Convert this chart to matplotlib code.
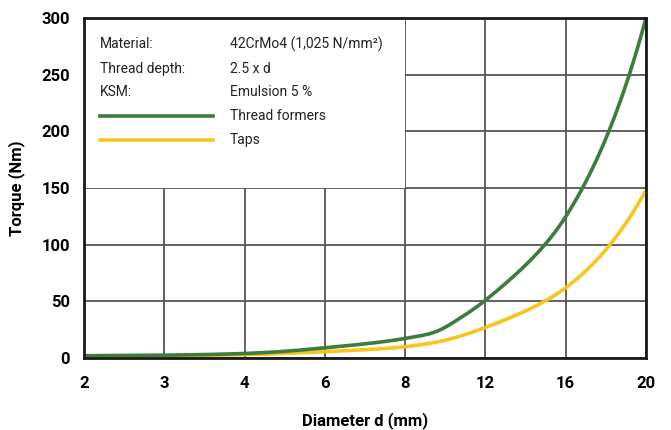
import numpy as np
import matplotlib.pyplot as plt
from matplotlib.patches import Rectangle
from matplotlib.lines import Line2D

# tick labels (diameters) sit on equally spaced positions
diam_labels = ["2", "3", "4", "6", "8", "12", "16", "20"]

# curve points, x given as position along the category axis
formers_pos = [0, 1, 2, 3, 4, 4.35, 4.68, 5, 6, 7]
formers_nm = [2, 2.5, 4, 9, 17.3, 22.4, 35, 51, 124.7, 300]

taps_pos = [0, 1, 2, 3, 4, 4.35, 5, 6, 7]
taps_nm = [1.5, 1.8, 3, 5.6, 10, 13.5, 27, 62, 148]

info_rows = [("Material:", "42CrMo4 (1,025 N/mm\u00b2)"),
             ("Thread depth:", "2.5 x d"),
             ("KSM:", "Emulsion 5 %")]

green = "#3b7d3b"
yellow = "#f7c51e"
plt.rcParams["font.family"] = ["Roboto", "DejaVu Sans"]

fig = plt.figure(figsize=(6.71, 4.30), dpi=100)
ax = fig.add_axes([0.1252, 0.1674, 0.8375, 0.7907])


def smooth(px, py, n=400):
    # cubic hermite through the read points, in log space
    x = np.asarray(px, float)
    y = np.log(np.asarray(py, float))
    h = np.diff(x)
    d = np.diff(y) / h
    m = np.empty_like(y)
    m[0], m[-1] = d[0], d[-1]
    m[1:-1] = (d[1:] * h[:-1] + d[:-1] * h[1:]) / (h[:-1] + h[1:])
    xs = np.linspace(x[0], x[-1], n)
    i = np.clip(np.searchsorted(x, xs) - 1, 0, len(h) - 1)
    t = (xs - x[i]) / h[i]
    h00 = 2 * t**3 - 3 * t**2 + 1
    h10 = t**3 - 2 * t**2 + t
    h01 = -2 * t**3 + 3 * t**2
    h11 = t**3 - t**2
    ys = h00 * y[i] + h10 * h[i] * m[i] + h01 * y[i + 1] + h11 * h[i] * m[i + 1]
    return xs, np.exp(ys)


xs, ys = smooth(formers_pos, formers_nm)
ax.plot(xs, ys, color=green, lw=2.6, zorder=3, solid_capstyle="butt")
xs, ys = smooth(taps_pos, taps_nm)
ax.plot(xs, ys, color=yellow, lw=2.6, zorder=2, solid_capstyle="butt")

ax.set_xlim(0, 7)
ax.set_ylim(0, 300)
ax.set_xticks(range(len(diam_labels)))
ax.set_xticklabels(diam_labels)
ax.set_yticks([0, 50, 100, 150, 200, 250, 300])
ax.tick_params(length=0, labelsize=12, pad=13)
for lab in ax.get_xticklabels() + ax.get_yticklabels():
    lab.set_fontweight("semibold")
ax.tick_params(axis="y", pad=10)

ax.set_axisbelow(True)
ax.grid(True, color="#555555", lw=1.3)
for s in ax.spines.values():
    s.set_linewidth(2)
    s.set_color("#1a1a1a")
    s.set_zorder(5)

# white info box hiding the grid in the top-left corner
ax.add_patch(Rectangle((0, 0.5), 4 / 7, 0.5, transform=ax.transAxes,
                       facecolor="white", edgecolor="none", zorder=1))

col1, col2 = 0.028, 0.26
row_y = [0.923, 0.851, 0.782, 0.711, 0.641]
for (k, v), y in zip(info_rows, row_y):
    ax.text(col1, y, k, transform=ax.transAxes, fontsize=10, va="center", color="#222222")
    ax.text(col2, y, v, transform=ax.transAxes, fontsize=10, va="center", color="#222222")
for (name, c), y in zip([("Thread formers", green), ("Taps", yellow)], row_y[3:]):
    ax.add_line(Line2D([col1, 0.229], [y, y], transform=ax.transAxes, color=c, lw=2.6))
    ax.text(col2, y, name, transform=ax.transAxes, fontsize=10, va="center", color="#222222")

ax.set_xlabel("Diameter d (mm)", fontsize=12, fontweight="semibold", labelpad=15)
ax.set_ylabel("Torque (Nm)", fontsize=12, fontweight="semibold", labelpad=12)

fig.savefig("out.png", dpi=100)
